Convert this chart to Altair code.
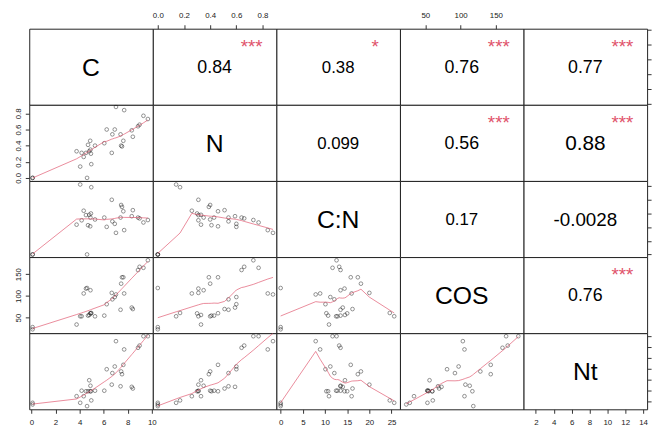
import altair as alt
import pandas as pd

VARS = ["C", "N", "C:N", "COS", "Nt"]
FIELDS = ["C", "N", "CN", "COS", "Nt"]

C   = [0.1, 0.1, 3.75, 4.05, 4.17, 4.34, 4.53, 4.62, 4.70, 4.90, 4.80, 4.88, 4.94, 4.97, 5.28, 6.05,
       6.25, 6.67, 6.72, 6.92, 7.02, 7.40, 7.45, 7.52, 7.63, 7.70, 8.33, 8.42, 8.85, 8.98, 9.30, 9.67]
N   = [0.0, 0.0, 0.33, 0.14, 0.31, 0.26, 0.31, 0.0, 0.41, 0.35, 0.33, 0.46, 0.30, 0.17, 0.40, 0.43,
       0.60, 0.31, 0.54, 0.60, 0.88, 0.54, 0.40, 0.39, 0.46, 0.84, 0.59, 0.51, 0.64, 0.66, 0.77, 0.73]
CN  = [0, 0, 10.9, 25.6, 12.5, 16.0, 14.4, 0, 10.7, 13.5, 14.5, 10.3, 15.0, 24.6, 12.8, 13.5,
       10.1, 20.0, 12.1, 11.2, 7.9, 13.5, 18.1, 17.4, 15.8, 8.9, 14.0, 16.2, 13.5, 13.2, 11.7, 12.6]
COS = [28, 23, 34, 53, 53, 105.5, 116.7, 118, 54.5, 112.9, 56, 60, 59.7, 60.6, 52.9, 54.5,
       80.8, 106.8, 92, 97.2, 103.2, 68, 128, 142.7, 142.7, 105.5, 73, 69.6, 159.4, 166.8, 164.5, 181.8]
Nt  = [1.8, 1.5, 3.0, 1.8, 4.0, 3.0, 3.9, 1.2, 3.9, 4.9, 5.9, 3.9, 3.9, 2.24, 4.0, 4.0,
       7.9, 5.1, 7.2, 8.4, 13.0, 4.8, 7.5, 7.0, 8.7, 11.5, 4.7, 4.4, 11.8, 12.2, 13.9, 13.9]

# upper triangle, row by row: (C,N) (C,C:N) (C,COS) (C,Nt) (N,C:N) (N,COS) (N,Nt) (C:N,COS) (C:N,Nt) (COS,Nt)
COR_TEXT = ["0.84", "0.38", "0.76", "0.77", "0.099", "0.56", "0.88", "0.17", "-0.0028", "0.76"]
COR_STARS = ["***", "*", "***", "***", "", "***", "***", "", "", "***"]

DOMAINS = {"C": [-0.18, 10.08], "N": [-0.038, 0.906], "CN": [-0.96, 26.9],
           "COS": [14.1, 189.2], "Nt": [0.62, 14.45]}
TICKS = {"C": [0, 2, 4, 6, 8, 10], "N": [0.0, 0.2, 0.4, 0.6, 0.8], "CN": [0, 5, 10, 15, 20, 25],
         "COS": [50, 100, 150], "Nt": [2, 4, 6, 8, 10, 12, 14]}
FMT = {"C": "d", "N": ".1f", "CN": "d", "COS": "d", "Nt": "d"}

# styles
W, H = 125, 77
FONT = "Liberation Sans"
RED = "#DF536B"
COR_SIZE = [18, 17, 18, 18, 17, 18, 21, 17, 19, 18]
LABEL_PAD = {"top": 5, "bottom": 5, "left": 3, "right": 3}
VIEW = alt.ViewBackground(stroke="#222222", strokeWidth=1, fill="white")

df = pd.DataFrame({"C": C, "N": N, "CN": CN, "COS": COS, "Nt": Nt})


def axis(field, orient, labels=True):
    kw = dict(orient=orient, values=TICKS[field], format=FMT[field], title=None, grid=False,
              domain=False, ticks=True, tickSize=4, tickColor="#333", labels=labels,
              labelFont=FONT, labelFontSize=8, labelColor="#222", labelPadding=LABEL_PAD[orient],
              labelFlush=False, labelOverlap=False)
    if orient == "left":
        kw.update(labelAngle=270, labelAlign="center", labelBaseline="bottom")
    return alt.Axis(**kw)


def xenc(field, ax):
    return alt.X(f"{field}:Q", scale=alt.Scale(domain=DOMAINS[field], nice=False, zero=False),
                 axis=ax)


def yenc(field, ax):
    return alt.Y(f"{field}:Q", scale=alt.Scale(domain=DOMAINS[field], nice=False, zero=False),
                 axis=ax)


def scatter(i, j):
    fx, fy = FIELDS[j], FIELDS[i]
    xa = axis(fx, "bottom") if (i == 4 and j % 2 == 0) else None
    ya = axis(fy, "left") if (j == 0 and i % 2 == 1) else None
    base = alt.Chart(df)
    pts = base.mark_point(shape="circle", size=14, filled=False, color="black",
                          strokeWidth=0.6, clip=True).encode(x=xenc(fx, xa), y=yenc(fy, ya))
    line = base.transform_loess(fx, fy, bandwidth=0.67).mark_line(
        color=RED, strokeWidth=0.9, opacity=0.75, clip=True).encode(
        x=xenc(fx, xa), y=yenc(fy, ya))
    return alt.layer(pts, line).properties(width=W, height=H, view=VIEW)


def text_cell(i, j):
    layers = []
    xa = ya = None
    fx, fy = FIELDS[j], FIELDS[i]
    if i == 0 and j % 2 == 1:
        xa = axis(fx, "top")
    if i == 4 and j == 4:
        xa = axis(fx, "bottom")
    if j == 4 and i % 2 == 0:
        ya = axis(fy, "right", labels=False)
    if xa is not None or ya is not None:
        layers.append(alt.Chart(df).mark_point(opacity=0).encode(
            x=xenc(fx, xa), y=yenc(fy, ya)))
    if i == j:
        t = pd.DataFrame({"t": [VARS[i]]})
        layers.append(alt.Chart(t).mark_text(font=FONT, fontSize=25, color="black",
                                             baseline="middle", align="center").encode(
            text="t:N", x=alt.value(W / 2), y=alt.value(H / 2 + 1)))
    else:
        k = sum(4 - r for r in range(i)) + (j - i - 1)
        t = pd.DataFrame({"t": [COR_TEXT[k]], "s": [COR_STARS[k]]})
        layers.append(alt.Chart(t).mark_text(font=FONT, fontSize=COR_SIZE[k], color="black",
                                             baseline="middle", align="center").encode(
            text="t:N", x=alt.value(W / 2), y=alt.value(H / 2 + 1)))
        if COR_STARS[k]:
            layers.append(alt.Chart(t).mark_text(font=FONT, fontSize=19, color=RED,
                                                 baseline="middle", align="center").encode(
                text="s:N", x=alt.value(W * 0.8), y=alt.value(H * 0.2 + 3)))
    return alt.layer(*layers).properties(width=W, height=H, view=VIEW)


cells = []
for i in range(5):
    for j in range(5):
        cells.append(scatter(i, j) if i > j else text_cell(i, j))

chart = alt.concat(*cells, columns=5, spacing=0, bounds="flush").properties(
    padding={"left": 5.5, "top": 0.5, "right": 5, "bottom": 2}
).configure_view(stroke="#222222", strokeWidth=1).configure(background="white")

chart.save("out.html", embed_options={"renderer": "svg", "actions": False})
